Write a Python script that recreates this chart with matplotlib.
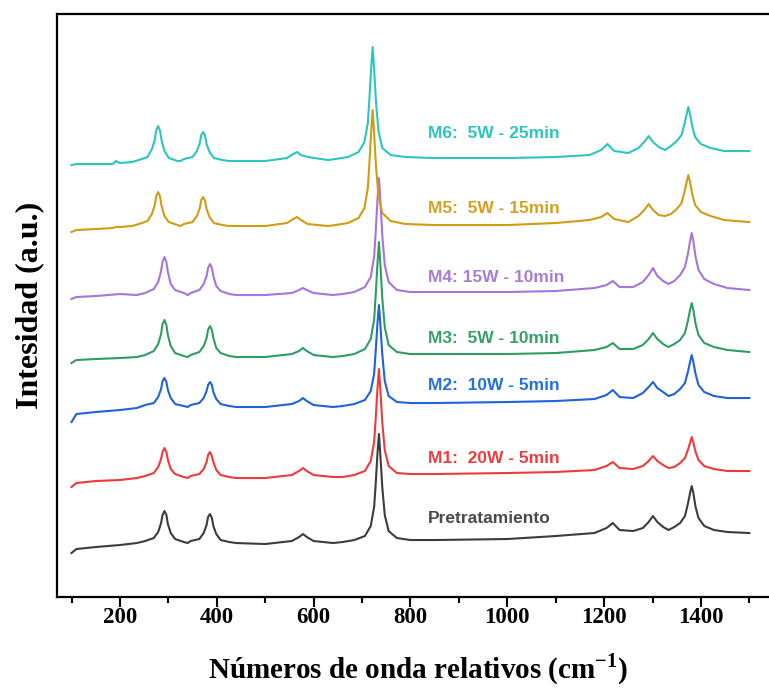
import matplotlib
matplotlib.use('Agg')
import matplotlib.pyplot as plt
import numpy as np
from matplotlib.ticker import MultipleLocator

plt.rcParams['mathtext.fontset'] = 'custom'
plt.rcParams['mathtext.bf'] = 'Liberation Serif:bold'
plt.rcParams['mathtext.rm'] = 'Liberation Serif'

# Raman shift (cm-1) sampled along the spectra
# grid A: pretratamiento, M1..M4 ; grid B: M5, M6 (bands shifted to lower wavenumber)
shift_a = [100, 110, 150, 200, 235,
           252, 270, 279, 285, 288, 292, 296, 299, 305, 314, 332,
           340,
           346, 364, 373, 379, 382, 386, 390, 393, 399, 408, 426,
           440, 500, 555, 570, 578, 586, 600, 640, 660,
           684, 706, 718, 725, 728, 732, 735, 738, 742, 747, 755, 772,
           800, 850, 1000, 1100, 1180, 1205, 1218, 1232, 1260,
           1280, 1292, 1301, 1310, 1322, 1333,
           1345, 1357, 1367, 1373, 1378, 1381, 1384, 1389, 1395, 1407, 1427, 1455, 1500]
shift_b = [100, 110, 150, 185, 192, 200, 225,
           239, 257, 266, 272, 275, 279, 283, 286, 292, 301, 319,
           325,
           332, 350, 359, 365, 368, 372, 376, 379, 385, 394, 412,
           425, 500, 545, 558, 566, 574, 588, 630, 645,
           671, 693, 705, 712, 715, 719, 722, 725, 729, 734, 742, 759,
           790, 850, 1000, 1100, 1170, 1194, 1207, 1221, 1250,
           1271, 1283, 1292, 1301, 1313, 1326,
           1338, 1350, 1360, 1366, 1371, 1374, 1377, 1382, 1388, 1400, 1420, 1448, 1500]

# intensities (a.u.)
pretratamiento = [-10, -6, -4, -2, 0,
                  2, 5, 11, 20, 28, 32, 28, 19, 10, 4, 1,
                  0,
                  2, 4, 10, 18, 26, 29, 25, 17, 9, 3, 1,
                  0, -1, 2, 6, 9, 6, 2, 0, 1,
                  3, 7, 17, 36, 57, 90, 109, 87, 55, 28, 12, 5,
                  3, 3, 4, 7, 10, 15, 20, 13, 12,
                  15, 21, 27, 21, 16, 13,
                  16, 20, 27, 39, 51, 57, 51, 36, 25, 17, 13, 11, 10]
m1 = [-9, -5, -3, -2, 0,
      2, 5, 11, 19, 26, 30, 26, 18, 9, 4, 1,
      0,
      2, 4, 9, 16, 23, 26, 22, 16, 8, 3, 1,
      0, 0, 3, 7, 10, 7, 3, 1, 1,
      3, 7, 17, 36, 57, 90, 109, 87, 55, 28, 12, 5,
      4, 4, 5, 6, 8, 12, 16, 10, 9,
      12, 17, 22, 17, 13, 10,
      11, 15, 20, 28, 36, 41, 36, 26, 18, 12, 9, 7, 7]
m2 = [-15, -7, -5, -3, -1,
      2, 4, 10, 18, 26, 29, 25, 17, 9, 3, 1,
      0,
      2, 4, 9, 16, 22, 25, 22, 15, 8, 3, 1,
      0, 0, 3, 6, 9, 6, 2, 0, 1,
      3, 7, 16, 33, 54, 84, 102, 82, 52, 26, 11, 5,
      4, 4, 5, 6, 8, 12, 17, 10, 9,
      14, 20, 25, 19, 15, 11,
      13, 18, 24, 35, 46, 52, 46, 33, 22, 15, 11, 9, 9]
m3 = [-6, -3, -2, -1, 0,
      2, 6, 13, 23, 33, 37, 32, 22, 11, 4, 1,
      0,
      2, 5, 11, 19, 27, 31, 27, 19, 9, 4, 1,
      0, 0, 3, 6, 9, 6, 2, 0, 1,
      3, 8, 18, 37, 60, 94, 115, 92, 58, 30, 12, 5,
      3, 3, 3, 4, 7, 10, 14, 8, 8,
      12, 18, 24, 18, 13, 10,
      13, 17, 24, 36, 48, 54, 48, 33, 22, 14, 10, 7, 5]
m4 = [-4, -2, -1, 1, 0,
      2, 6, 13, 24, 33, 38, 33, 23, 11, 5, 2,
      0,
      2, 5, 11, 19, 27, 31, 27, 19, 9, 4, 1,
      0, 0, 2, 5, 7, 5, 2, 0, 1,
      3, 8, 18, 38, 61, 96, 117, 94, 59, 30, 13, 5,
      3, 3, 3, 4, 7, 10, 14, 8, 8,
      13, 20, 27, 19, 14, 11,
      14, 20, 28, 41, 55, 62, 55, 38, 25, 16, 11, 7, 5]
m5 = [-6, -4, -3, -2, -1, -1, 0,
      2, 5, 12, 21, 30, 34, 29, 20, 10, 4, 1,
      0,
      2, 4, 10, 18, 26, 29, 25, 17, 9, 3, 1,
      0, 0, 3, 7, 9, 6, 2, 0, 1,
      3, 8, 18, 38, 61, 95, 116, 93, 59, 30, 13, 5,
      2, 1, 1, 3, 6, 9, 13, 7, 4,
      10, 16, 22, 16, 11, 10,
      12, 17, 23, 34, 45, 51, 45, 32, 21, 14, 10, 6, 4]
m6 = [-5, -4, -4, -4, -1, -3, -2,
      0, 3, 11, 20, 30, 34, 29, 20, 9, 2, -1,
      -1,
      1, 3, 9, 17, 25, 28, 24, 16, 8, 2, 0,
      -1, -1, 2, 6, 8, 5, 3, 0, 1,
      3, 8, 18, 37, 59, 93, 113, 91, 57, 29, 12, 5,
      3, 2, 2, 3, 5, 10, 16, 9, 7,
      12, 18, 24, 18, 13, 10,
      14, 19, 25, 36, 47, 53, 47, 34, 23, 16, 12, 9, 9]

labels = ['Pretratamiento', 'M1:  20W - 5min', 'M2:  10W - 5min', 'M3:  5W - 10min',
          'M4: 15W - 10min', 'M5:  5W - 15min', 'M6:  5W - 25min']
offsets = [54, 119, 190, 240, 302, 371, 437]

line_colors = ['#3c3c3c', '#f03a3a', '#1f62dc', '#2f9d62', '#a874dc', '#d29c12', '#2cc6be']
text_colors = ['#4a4a4a', '#ee3c3c', '#2270e0', '#35a068', '#a87cd8', '#d4a020', '#2cc5c0']
label_y = [79, 139, 212, 259, 320, 389, 464]

series = [(shift_a, pretratamiento), (shift_a, m1), (shift_a, m2), (shift_a, m3),
          (shift_a, m4), (shift_b, m5), (shift_b, m6)]

fig = plt.figure(figsize=(7.69, 6.91), dpi=100)
ax = fig.add_axes([0.0741, 0.136, 0.94, 0.8437])

for (x, y), off, c in zip(series, offsets, line_colors):
    ax.plot(x, np.array(y) + off, color=c, lw=1.5)

for lab, ly, c in zip(labels, label_y, text_colors):
    ax.text(836, ly, lab, color=c, fontsize=12.5, fontweight='bold',
            family='Liberation Sans', ha='left', va='center')

ax.set_xlim(70, 1563)
ax.set_ylim(0, 583)
ax.set_yticks([])
ax.xaxis.set_major_locator(MultipleLocator(200))
ax.xaxis.set_minor_locator(MultipleLocator(100))
ax.tick_params(axis='x', which='major', length=7, width=1.5, direction='out', pad=0)
ax.tick_params(axis='x', which='minor', length=4, width=1.5, direction='out')
for s in ax.spines.values():
    s.set_linewidth(1.6)

for t in ax.get_xticklabels():
    t.set_fontfamily('Liberation Serif')
    t.set_fontweight('bold')
    t.set_fontsize(16.5)

ax.set_xlabel('Números de onda relativos (cm$^{\\mathbf{-1}}$)', family='Liberation Serif',
              fontweight='bold', fontsize=21, labelpad=17)
ax.set_ylabel('Intesidad (a.u.)', family='Liberation Serif', fontweight='bold', fontsize=23, labelpad=9)

fig.savefig('out.png', dpi=100)
